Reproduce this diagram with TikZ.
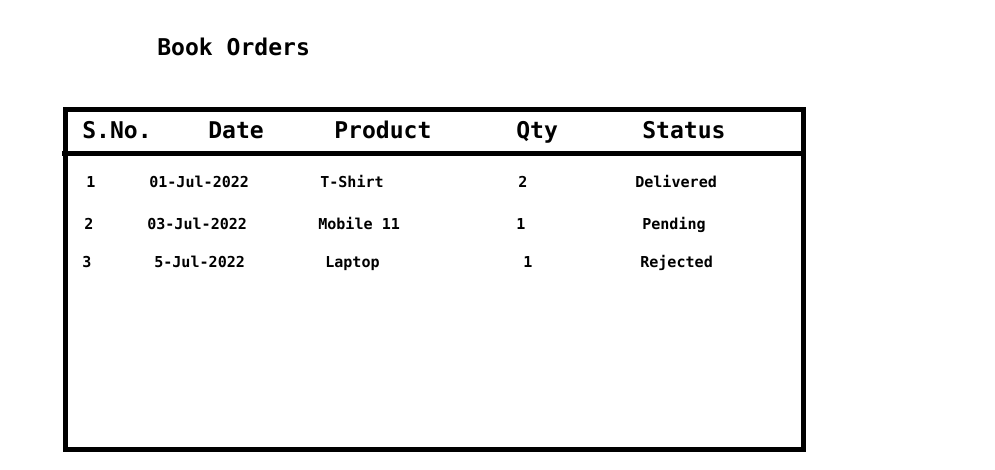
\documentclass[tikz,border=0pt]{standalone}
\usepackage{fontspec}
\setmonofont{DejaVu Sans Mono}
\usepackage{tikz}

\tikzset{
  hd/.style={anchor=west,inner sep=0pt,text height=0.73em,text depth=0pt,font=\ttfamily\bfseries\fontsize{17.3}{20}\selectfont},
  cell/.style={anchor=west,inner sep=0pt,text height=0.73em,text depth=0pt,font=\ttfamily\bfseries\fontsize{11.3}{13}\selectfont}
}

\begin{document}
\begin{tikzpicture}[x=0.75pt,y=-0.75pt]
      \useasboundingbox (0,0) rectangle (995,470);
      \node [hd] (title) at (157,51) {Book Orders};

      \draw[line width=3.75pt] (65,110) rectangle (803,449);
      \draw[line width=3.75pt] (62,154) -- (806,154);

      \node [hd] (h1) at (82,134) {S.No.};
      \node [hd] (h2) at (208,134) {Date};
      \node [hd] (h3) at (334,134) {Product};
      \node [hd] (h4) at (516,134) {Qty};
      \node [hd] (h5) at (642,134) {Status};

      \node [cell] (a1) at (86,183) {1};
      \node [cell] (a2) at (149,183) {01-Jul-2022};
      \node [cell] (a3) at (320,183) {T-Shirt};
      \node [cell] (a4) at (518,183) {2};
      \node [cell] (a5) at (635,183) {Delivered};

      \node [cell] (b1) at (84,225) {2};
      \node [cell] (b2) at (147,225) {03-Jul-2022};
      \node [cell] (b3) at (318,225) {Mobile 11};
      \node [cell] (b4) at (516,225) {1};
      \node [cell] (b5) at (642,225) {Pending};

      \node [cell] (c1) at (82,263) {3};
      \node [cell] (c2) at (154,263) {5-Jul-2022};
      \node [cell] (c3) at (325,263) {Laptop};
      \node [cell] (c4) at (523,263) {1};
      \node [cell] (c5) at (640,263) {Rejected};
    \end{tikzpicture}
\end{document}
